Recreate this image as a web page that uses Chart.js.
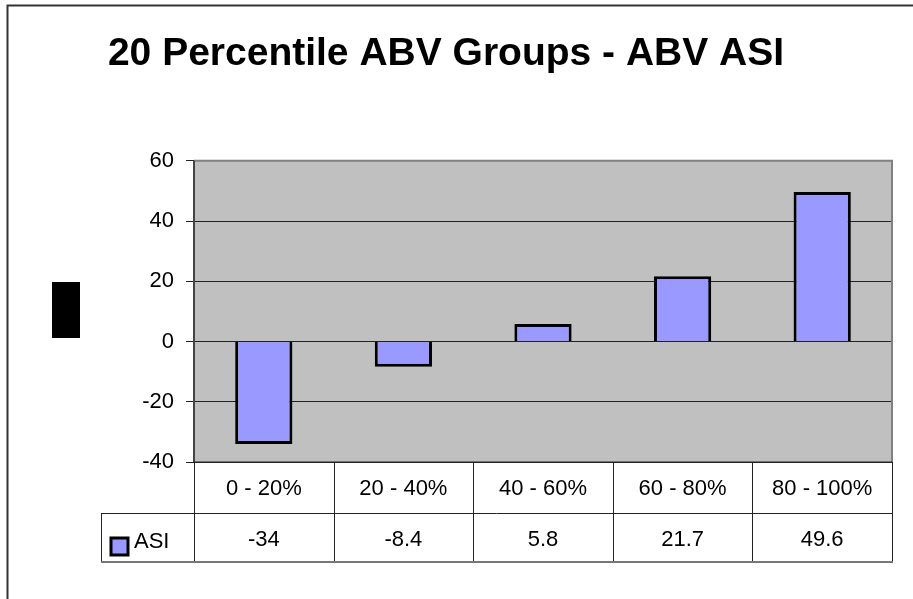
<!DOCTYPE html>
<html>
<head>
<meta charset="utf-8">
<script src="https://cdn.jsdelivr.net/npm/chart.js@4/dist/chart.umd.min.js"></script>
<style>
  html, body { margin: 0; padding: 0; background: #fff; }
  #wrap { width: 913px; height: 599px; position: relative; }
</style>
</head>
<body>
<div id="wrap"><canvas id="myChart" width="913" height="599"></canvas></div>
<script>
const categories = ['0 - 20%', '20 - 40%', '40 - 60%', '60 - 80%', '80 - 100%'];
const asiValues = [-34, -8.4, 5.8, 21.7, 49.6];
const asiLabels = ['-34', '-8.4', '5.8', '21.7', '49.6'];
const seriesName = 'ASI';

const FONT = '"Liberation Sans", Arial, sans-serif';
const BAR_FILL = '#9999FF';

// frame, plot background/border and the data table under the plot
const excelLook = {
  id: 'excelLook',
  beforeDraw(chart) {
    const ctx = chart.ctx;
    const a = chart.chartArea;
    ctx.save();
    ctx.fillStyle = '#C0C0C0';
    ctx.fillRect(a.left, a.top, a.right - a.left, a.bottom - a.top);
    // outer chart frame
    ctx.strokeStyle = '#333';
    ctx.lineWidth = 2;
    ctx.beginPath();
    ctx.moveTo(7.5, 599);
    ctx.lineTo(7.5, 5.5);
    ctx.lineTo(913, 5.5);
    ctx.stroke();
    // the black box left of the axis
    ctx.fillStyle = '#000';
    ctx.fillRect(52, 282, 28, 56);
    ctx.restore();
  },
  afterDraw(chart) {
    const ctx = chart.ctx;
    const a = chart.chartArea;
    const x = chart.scales.x;
    ctx.save();
    // plot border
    ctx.strokeStyle = '#808080';
    ctx.lineWidth = 2;
    ctx.beginPath();
    ctx.moveTo(a.left, a.top);
    ctx.lineTo(a.right, a.top);
    ctx.lineTo(a.right, a.bottom);
    ctx.stroke();
    ctx.strokeStyle = '#444';
    ctx.lineWidth = 2;
    ctx.beginPath();
    ctx.moveTo(a.left, a.top);
    ctx.lineTo(a.left, a.bottom);
    ctx.stroke();

    // data table
    const row1 = a.bottom, row2 = a.bottom + 51, row3 = a.bottom + 100;
    const tableLeft = 101;
    const colW = (a.right - a.left) / categories.length;
    ctx.strokeStyle = '#222';
    ctx.lineWidth = 1;
    ctx.beginPath();
    ctx.moveTo(a.left, a.bottom);
    ctx.lineTo(a.right, a.bottom);
    ctx.moveTo(tableLeft, row2 + 0.5);
    ctx.lineTo(a.right, row2 + 0.5);
    ctx.moveTo(tableLeft + 0.5, row2);
    ctx.lineTo(tableLeft + 0.5, row3);
    for (let i = 0; i <= categories.length; i++) {
      const cx = Math.round(a.left + i * colW) + 0.5;
      ctx.moveTo(cx, row1);
      ctx.lineTo(cx, row3);
    }
    ctx.stroke();
    ctx.strokeStyle = '#777';
    ctx.lineWidth = 2;
    ctx.beginPath();
    ctx.moveTo(tableLeft, row3);
    ctx.lineTo(a.right + 1, row3);
    ctx.stroke();

    ctx.fillStyle = '#000';
    ctx.font = '22px ' + FONT;
    ctx.textAlign = 'center';
    ctx.textBaseline = 'middle';
    categories.forEach((c, i) => {
      const cx = x.getPixelForValue(i);
      ctx.fillText(c, cx, (row1 + row2) / 2 + 1);
      ctx.fillText(asiLabels[i], cx, (row2 + row3) / 2 + 2);
    });
    // legend key
    ctx.fillStyle = BAR_FILL;
    ctx.fillRect(110, 537, 19, 19);
    ctx.strokeStyle = '#000';
    ctx.lineWidth = 3;
    ctx.strokeRect(111, 538, 17, 17);
    ctx.fillStyle = '#000';
    ctx.textAlign = 'left';
    ctx.fillText(seriesName, 134, 542);
    ctx.restore();
  }
};

const ctx = document.getElementById('myChart').getContext('2d');
const data = {
  labels: categories,
  datasets: [
    {
      label: seriesName,
      data: asiValues,
      backgroundColor: BAR_FILL,
      borderColor: '#000',
      borderWidth: 3,
      categoryPercentage: 1,
      barPercentage: 0.41
    }
  ]
};
const myChart = new Chart(ctx, {
  type: 'bar',
  data: data,
  plugins: [excelLook],
  options: {
    responsive: false,
    animation: false,
    layout: { padding: { left: 0, right: 21, top: 0, bottom: 137 } },
    plugins: {
      legend: { display: false },
      tooltip: { enabled: false },
      title: {
        display: true,
        text: '20 Percentile ABV Groups - ABV ASI',
        color: '#000',
        font: { family: FONT, size: 39, weight: 'bold' },
        padding: { top: 31, bottom: 83 }
      }
    },
    scales: {
      x: {
        display: false
      },
      y: {
        min: -40,
        max: 60,
        ticks: {
          stepSize: 20,
          color: '#000',
          padding: 12,
          font: { family: FONT, size: 22 }
        },
        grid: {
          color: '#222',
          lineWidth: 1,
          tickLength: 8,
          drawTicks: true
        },
        border: { display: false },
        afterFit(scale) { scale.width = 194; }
      }
    }
  }
});
</script>
</body>
</html>
